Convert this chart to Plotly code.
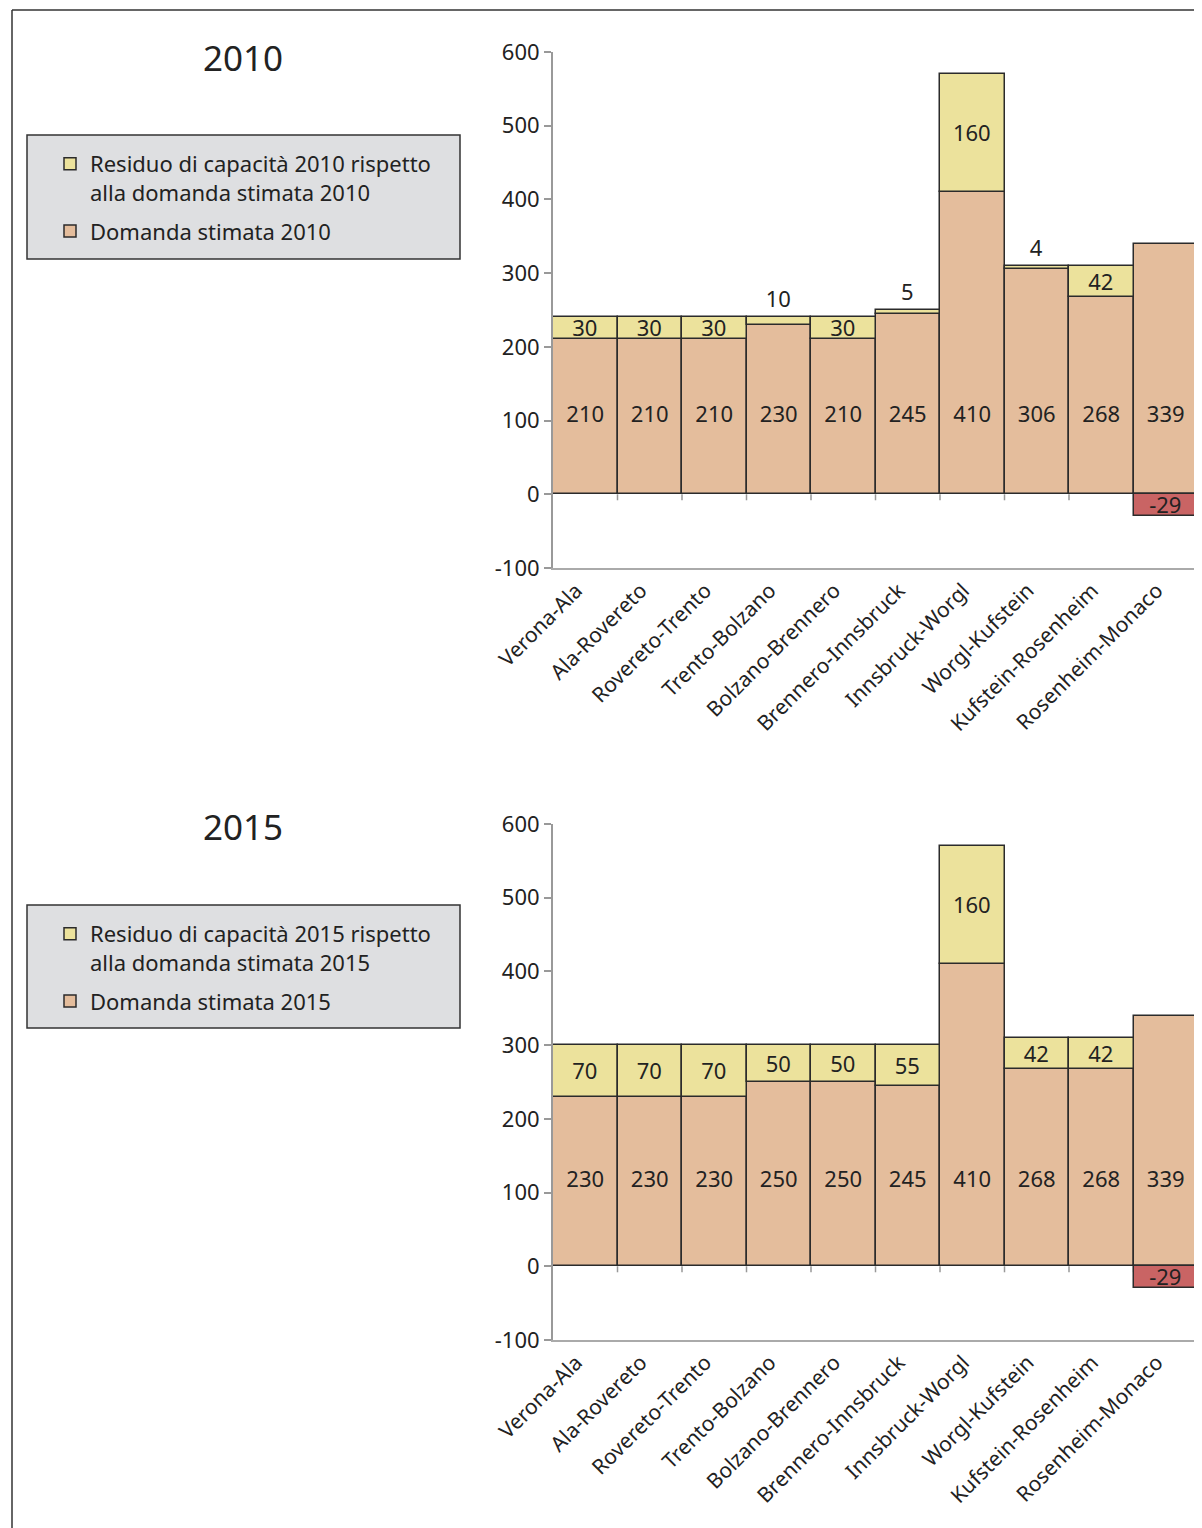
import plotly.graph_objects as go

categories = ["Verona-Ala", "Ala-Rovereto", "Rovereto-Trento", "Trento-Bolzano",
              "Bolzano-Brennero", "Brennero-Innsbruck", "Innsbruck-Worgl",
              "Worgl-Kufstein", "Kufstein-Rosenheim", "Rosenheim-Monaco"]

domanda_2010 = [210, 210, 210, 230, 210, 245, 410, 306, 268, 339]
residuo_2010 = [30, 30, 30, 10, 30, 5, 160, 4, 42, -29]

domanda_2015 = [230, 230, 230, 250, 250, 245, 410, 268, 268, 339]
residuo_2015 = [70, 70, 70, 50, 50, 55, 160, 42, 42, -29]

years = ["2010", "2015"]
y_ticks = [-100, 0, 100, 200, 300, 400, 500, 600]

FONT = "Noto Sans"
C_DOM = "#e4bd9c"
C_RES = "#ece29c"
C_NEG = "#c96464"
C_EDGE = "#2b2b2b"
W, H = 1202, 1528
OFF = 8  # page body margin


def px(v):
    return (v - OFF) / W


def py(v):
    return 1 - (v - OFF) / H


fig = go.Figure()

px_x0, px_x1 = 553, 1198
panels = [(52, 568), (824, 1340)]      # pixel rows of 600 and -100
legend_boxes = [(135, 259), (905, 1028)]
title_rows = [57, 826]

for k, (year, dom, res) in enumerate([(years[0], domanda_2010, residuo_2010),
                                       (years[1], domanda_2015, residuo_2015)]):
    xa = "x" if k == 0 else "x2"
    ya = "y" if k == 0 else "y2"
    leg = "legend" if k == 0 else "legend2"
    fig.add_trace(go.Bar(
        x=categories, y=dom, name=f"Domanda stimata {year}",
        legendgroup=f"dom{year}", legendrank=2,
        marker=dict(color=C_DOM, line=dict(color=C_EDGE, width=1.5)),
        xaxis=xa, yaxis=ya, legend=leg, hoverinfo="x+y",
    ))
    small = [abs(v) < 20 for v in res]
    fig.add_trace(go.Bar(
        x=categories, y=res,
        name=f"Residuo di capacità {year} rispetto<br>alla domanda stimata {year}",
        legendgroup=f"res{year}", legendrank=1,
        marker=dict(color=[C_RES if v >= 0 else C_NEG for v in res],
                    line=dict(color=C_EDGE, width=1.5)),
        text=[str(v) for v in res],
        textposition=["outside" if s else "inside" for s in small],
        insidetextanchor="middle", textangle=0,
        textfont=dict(family=FONT, size=22, color="#222"),
        constraintext="none", cliponaxis=False,
        xaxis=xa, yaxis=ya, legend=leg, hoverinfo="x+y",
    ))
    lab_y = min(dom) / 2
    fig.add_trace(go.Scatter(
        x=categories, y=[lab_y] * len(dom), mode="text",
        text=[str(v) for v in dom],
        textfont=dict(family=FONT, size=22, color="#222"),
        showlegend=False, xaxis=xa, yaxis=ya, hoverinfo="skip",
    ))
    for i in range(len(categories) - 1):
        fig.add_shape(type="line", xref=xa, yref=ya, x0=i + 0.5, x1=i + 0.5,
                      ysizemode="pixel", yanchor=0, y0=0, y1=-6,
                      line=dict(color="#999", width=1.5), layer="below")

    top, bot = panels[k]
    xkey = "xaxis" if k == 0 else "xaxis2"
    ykey = "yaxis" if k == 0 else "yaxis2"
    fig.update_layout(**{
        xkey: dict(domain=[px(px_x0), px(px_x1)], anchor=ya, type="category",
                   range=[-0.5, 9.5], automargin=False,
                   showline=True, linecolor="#aaa", linewidth=2, ticks="",
                   showgrid=False, zeroline=False, tickangle=-45,
                   ticklabelshift=-9,
                   tickfont=dict(family=FONT, size=21, color="#222")),
        ykey: dict(domain=[py(bot), py(top)], anchor=xa,
                   range=[-100, 600], tickvals=y_ticks,
                   ticktext=[str(v) for v in y_ticks], automargin=False,
                   showline=True, linecolor="#999", linewidth=2,
                   ticks="outside", ticklen=7, tickcolor="#999", tickwidth=1.5,
                   showgrid=False, zeroline=False,
                   tickfont=dict(family=FONT, size=22, color="#222")),
    })
    fig.add_annotation(text=year, xref="paper", yref="paper",
                       x=px(243), y=py(title_rows[k]),
                       xanchor="center", yanchor="middle", showarrow=False,
                       font=dict(family=FONT, size=35, color="#222"))
    b0, b1 = legend_boxes[k]
    fig.add_shape(type="rect", xref="paper", yref="paper",
                  x0=px(27), x1=px(460), y0=py(b1), y1=py(b0),
                  fillcolor="#dedfe1", line=dict(color="#333", width=1.5),
                  layer="below")

legend_common = dict(
    bgcolor="rgba(0,0,0,0)", borderwidth=0,
    font=dict(family=FONT, size=22, color="#222"),
    traceorder="grouped", xanchor="left", yanchor="top", valign="top",
    indentation=23, itemwidth=30, tracegroupgap=7,
)
fig.update_layout(
    legend=dict(x=px(27), y=py(143), **legend_common),
    legend2=dict(x=px(27), y=py(913), **legend_common),
)

fig.add_shape(type="line", xref="paper", yref="paper", x0=px(12), x1=px(12),
              y0=0, y1=py(10), line=dict(color="#333", width=1.5))
fig.add_shape(type="line", xref="paper", yref="paper", x0=px(12), x1=1,
              y0=py(10), y1=py(10), line=dict(color="#333", width=1.5))

fig.update_layout(
    width=W, height=H, barmode="relative", bargap=0,
    margin=dict(l=0, r=0, t=0, b=0, autoexpand=False),
    paper_bgcolor="white", plot_bgcolor="white",
    font=dict(family=FONT, color="#222"),
    uniformtext=dict(minsize=22, mode="show"),
)

fig.write_html("out.html")
